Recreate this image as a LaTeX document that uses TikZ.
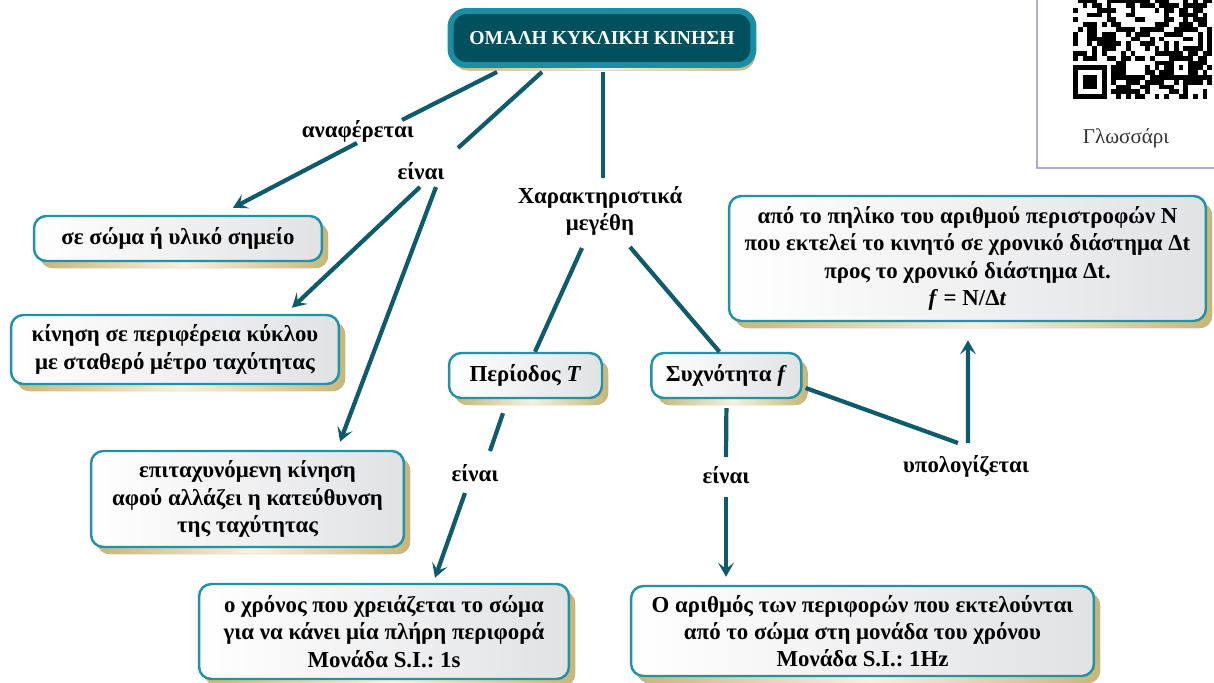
\documentclass[tikz,border=0pt]{standalone}
\usepackage{fontspec}
\setmainfont{Liberation Serif}
\frenchspacing
\usetikzlibrary{positioning}
\usetikzlibrary{arrows.meta}
\usetikzlibrary{shadows}

\definecolor{linkcol}{HTML}{0E5B6B}
\definecolor{rimcol}{HTML}{2093A8}
\definecolor{boxgray}{HTML}{E1E2E4}
\definecolor{titlefill}{HTML}{00505E}
\definecolor{titlerim}{HTML}{1A8EA3}
\definecolor{shadowtan}{HTML}{C9B676}
\definecolor{shadowlight}{HTML}{F6F1DE}
\definecolor{framecol}{HTML}{B3A9D3}

\tikzset{
  goldshadow/.style={drop shadow={shadow xshift=3.5pt, shadow yshift=-4pt, opacity=1,
    left color=shadowtan, right color=shadowtan, middle color=shadowlight}},
  concept/.style={rounded corners=7pt, draw=rimcol, line width=1.4pt,
    left color=white, right color=boxgray, align=center, inner sep=2pt,
    font=\bfseries\fontsize{13}{15.5}\selectfont, goldshadow},
  headline/.style={rounded corners=9pt, draw=titlerim, line width=3.4pt,
    fill=titlefill, text=white, font=\bfseries\fontsize{11.2}{14}\selectfont,
    drop shadow={shadow xshift=1pt, shadow yshift=-3pt, opacity=1,
      left color=shadowtan, right color=shadowtan, middle color=shadowlight}},
  verb/.style={font=\bfseries\fontsize{13}{15.5}\selectfont, align=center, inner sep=2pt},
  link/.style={draw=linkcol, line width=2.4pt},
  linkarrow/.style={link, -{Stealth[length=8pt, width=9pt, inset=3.5pt]}}
}

\begin{document}
\begin{tikzpicture}[x=0.02cm, y=-0.02cm]
\useasboundingbox (0,0) rectangle (1214,683);

% QR code and glossary frame
\pgfmathsetseed{2718}
\foreach \i in {0,...,28} {
  \foreach \j in {8,...,28} {
    \pgfmathtruncatemacro\qrhole{or(and(\i<8,\j>20),and(and(\i>19,\i<25),and(\j>19,\j<25)))}
    \pgfmathrandominteger{\qrbit}{0}{1}
    \ifnum\qrhole=0 \ifnum\qrbit=1
      \fill (1073+\i*4.8,-40.2+\j*4.8) rectangle ++(4.8,4.8);
    \fi\fi
  }
}
\fill (1073,65.4) rectangle ++(33.6,33.6);
\fill[white] (1077.8,70.2) rectangle ++(24,24);
\fill (1082.6,75) rectangle ++(14.4,14.4);
\fill (1169,55.8) rectangle ++(24,24);
\fill[white] (1173.8,60.6) rectangle ++(14.4,14.4);
\fill (1178.6,65.4) rectangle ++(4.8,4.8);
\draw[framecol, line width=1.2pt] (1037,0) -- (1037,168) -- (1214,168);
\node[font=\fontsize{12}{14}\selectfont, text=black!80] (gloss) at (1126,138) {Γλωσσάρι};

% concepts
\node[headline, minimum width=6.06cm, minimum height=1.08cm] (title) at (602,38) {ΟΜΑΛΗ ΚΥΚΛΙΚΗ ΚΙΝΗΣΗ};
\node[concept, minimum width=5.76cm, minimum height=0.9cm] (body) at (178,238.5) {σε σώμα ή υλικό σημείο};
\node[concept, minimum width=6.56cm, minimum height=1.38cm] (motion) at (175,349.5) {κίνηση σε περιφέρεια κύκλου\\με σταθερό μέτρο ταχύτητας};
\node[concept, minimum width=6.26cm, minimum height=1.92cm] (accel) at (247.5,499) {επιταχυνόμενη κίνηση\\αφού αλλάζει η κατεύθυνση\\της ταχύτητας};
\node[concept, minimum width=3.06cm, minimum height=0.9cm] (period) at (525.5,375.5) {Περίοδος \textit{T}};
\node[concept, minimum width=3.0cm, minimum height=0.9cm] (freq) [right = 0.94cm of period] {Συχνότητα \textit{f}};
\node[concept, minimum width=7.4cm, minimum height=1.9cm] (perdef) at (384,631.5) {ο χρόνος που χρειάζεται το σώμα\\για να κάνει μία πλήρη περιφορά\\Μονάδα S.I.: 1s};
\node[concept, minimum width=9.26cm, minimum height=1.8cm] (freqdef) at (862.5,631) {Ο αριθμός των περιφορών που εκτελούνται\\από το σώμα στη μονάδα του χρόνου\\Μονάδα S.I.: 1Hz};
\node[concept, minimum width=9.54cm, minimum height=2.5cm] (ratio) at (967.5,258.5) {από το πηλίκο του αριθμού περιστροφών N\\που εκτελεί το κινητό σε χρονικό διάστημα Δt\\προς το χρονικό διάστημα Δt.\\\textit{f} = N/Δ\textit{t}};

% linking words
\node[verb] (refers) at (358,131) {αναφέρεται};
\node[verb] (isA) at (421,171) {είναι};
\node[verb] (quant) at (600,211) {Χαρακτηριστικά\\μεγέθη};
\node[verb] (isB) at (475,473) {είναι};
\node[verb] (isC) at (726,475) {είναι};
\node[verb] (computed) at (966,466) {υπολογίζεται};

% connectors
\draw[link] ([shift={(-105,4)}]title.south) -- ([shift={(44,-11)}]refers.center);
\draw[linkarrow] ([shift={(-1,12)}]refers.center) -- ([shift={(55,-7)}]body.north);
\draw[link] ([shift={(-60,4)}]title.south) -- ([shift={(37,-23)}]isA.center);
\draw[linkarrow] ([shift={(-1,16)}]isA.center) -- ([shift={(117,-6)}]motion.north);
\draw[linkarrow] ([shift={(15,16)}]isA.center) -- ([shift={(92.5,-8)}]accel.north);
\draw[link] ([shift={(1,4)}]title.south) -- ([shift={(3,-33)}]quant.center);
\draw[link] ([shift={(-18,37)}]quant.center) -- ([shift={(9.5,0)}]period.north);
\draw[link] ([shift={(30,36)}]quant.center) -- ([shift={(-7,0)}]freq.north);
\draw[link] ([shift={(-22.5,14)}]period.south) -- ([shift={(15,-22)}]isB.center);
\draw[linkarrow] ([shift={(-10,20)}]isB.center) -- ([shift={(51,-5)}]perdef.north);
\draw[link] ([shift={(0,9)}]freq.south) -- ([shift={(0,-18)}]isC.center);
\draw[linkarrow] ([shift={(0,22)}]isC.center) -- ([shift={(-136.5,-8)}]freqdef.north);
\draw[link] ([shift={(3,12.5)}]freq.east) -- ([shift={(-8,-23)}]computed.center);
\draw[linkarrow] ([shift={(2,-23)}]computed.center) -- ([shift={(0.5,18)}]ratio.south);
\end{tikzpicture}
\end{document}
